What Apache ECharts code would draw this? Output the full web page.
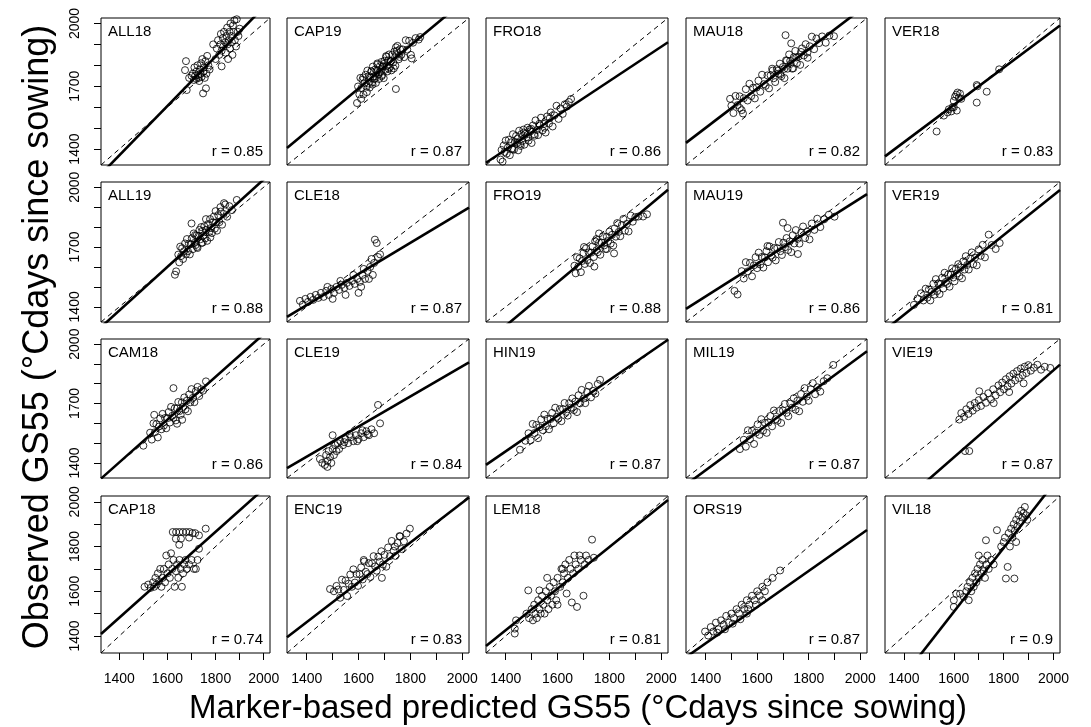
<!DOCTYPE html>
<html>
<head>
<meta charset="utf-8">
<script src="https://cdn.jsdelivr.net/npm/echarts@6/dist/echarts.min.js"></script>
<style>
  html, body { margin: 0; padding: 0; background: #fff; }
  #chart { width: 1091px; height: 727px; }
</style>
</head>
<body>
<div id="chart"></div>
<script>
// Sites / trial names, row by row
const sites = [
  'ALL18', 'CAP19', 'FRO18', 'MAU18', 'VER18',
  'ALL19', 'CLE18', 'FRO19', 'MAU19', 'VER19',
  'CAM18', 'CLE19', 'HIN19', 'MIL19', 'VIE19',
  'CAP18', 'ENC19', 'LEM18', 'ORS19', 'VIL18'
];
const rValues = ['0.85','0.87','0.86','0.82','0.83','0.88','0.87','0.88','0.86','0.81',
                 '0.86','0.84','0.87','0.87','0.87','0.74','0.83','0.81','0.87','0.9'];
// linear fit of observed on predicted: y = intercept + slope * x
const fitIntercept = [-282, 41, 249, 185, 187, -153, 317, -221, 304, -40,
                      -109, 368, 199, 19, -332, 138, 216, 124, 233, -780];
const fitSlope = [1.18, 1.03, 0.82, 0.94, 0.89, 1.096, 0.78, 1.09, 0.82, 1.0,
                  1.08, 0.76, 0.9, 0.96, 1.1, 0.96, 0.89, 0.93, 0.81, 1.43];

// axis range and ticks
const axisMin = 1324, axisMax = 2026;
const tickValues = [1400, 1500, 1600, 1700, 1800, 1900, 2000];
const yLabelValues = [1400, 1700, 2000];
const bottomLabelValues = [1400, 1600, 1800, 2000];

// [predicted, observed] per trial
const ALL18 = [[1677,1820],[1673,1777],[1680,1682],[1690,1740],[1700,1750],[1705,1760],[1710,1730],[1712,1790],[1715,1750],[1720,1770],[1720,1735],[1725,1800],[1728,1755],[1730,1740],[1732,1725],[1735,1780],[1738,1760],[1740,1810],[1742,1745],[1745,1830],[1748,1666],[1750,1770],[1752,1790],[1755,1740],[1758,1820],[1760,1690],[1762,1760],[1765,1845],[1770,1800],[1775,1780],[1805,1880],[1810,1920],[1815,1850],[1820,1900],[1822,1950],[1825,1870],[1830,1930],[1832,1890],[1835,1960],[1840,1910],[1842,1860],[1845,1940],[1848,1980],[1850,1900],[1852,1830],[1855,1920],[1858,1960],[1860,1880],[1862,2000],[1865,1940],[1868,1910],[1870,1850],[1872,1990],[1875,1960],[1878,2015],[1880,1920],[1885,1890],[1888,2020],[1892,1960],[1895,1940],[1900,1975],[1825,1795],[1790,1900],[1800,1830]];
const CAP19 = [[1598,1699],[1603,1661],[1607,1740],[1611,1692],[1615,1731],[1619,1661],[1623,1716],[1627,1755],[1630,1698],[1634,1775],[1637,1713],[1640,1749],[1643,1694],[1646,1743],[1649,1772],[1652,1717],[1655,1794],[1658,1746],[1661,1734],[1664,1780],[1667,1716],[1670,1775],[1673,1804],[1676,1756],[1679,1735],[1682,1795],[1685,1771],[1688,1816],[1691,1754],[1694,1795],[1697,1739],[1700,1822],[1703,1779],[1706,1844],[1709,1797],[1712,1771],[1715,1824],[1718,1852],[1721,1790],[1724,1819],[1727,1776],[1730,1851],[1734,1815],[1738,1866],[1742,1798],[1746,1849],[1750,1893],[1755,1829],[1760,1877],[1765,1850],[1770,1876],[1776,1839],[1782,1920],[1788,1875],[1795,1917],[1802,1850],[1810,1908],[1820,1930],[1832,1923],[1632,1672],[1650,1771],[1662,1737],[1672,1809],[1680,1767],[1689,1748],[1698,1807],[1708,1841],[1716,1784],[1725,1820],[1736,1785],[1748,1869],[1758,1840],[1618,1742],[1654,1708],[1693,1795],[1744,1886],[1594,1620],[1610,1640],[1744,1687],[1805,1833],[1838,1935]];
const FRO18 = [[1380,1350],[1384,1396],[1388,1340],[1392,1417],[1396,1386],[1400,1441],[1404,1378],[1408,1407],[1412,1445],[1416,1371],[1420,1432],[1424,1403],[1428,1471],[1432,1397],[1436,1434],[1440,1463],[1444,1430],[1448,1394],[1452,1488],[1456,1425],[1460,1471],[1464,1438],[1468,1493],[1472,1421],[1476,1473],[1480,1457],[1484,1502],[1488,1440],[1492,1494],[1496,1485],[1500,1429],[1505,1513],[1510,1471],[1515,1537],[1520,1491],[1525,1467],[1530,1521],[1536,1550],[1542,1489],[1548,1520],[1554,1479],[1560,1556],[1567,1522],[1574,1575],[1581,1508],[1588,1561],[1596,1607],[1604,1544],[1612,1594],[1620,1568],[1628,1614],[1636,1603],[1644,1625],[1652,1639],[1426,1398],[1446,1450],[1458,1415],[1470,1479],[1486,1455],[1498,1497],[1512,1464],[1532,1513],[1550,1502],[1570,1548]];
const MAU18 = [[1500,1607],[1508,1572],[1516,1654],[1524,1610],[1532,1652],[1540,1586],[1548,1643],[1556,1686],[1563,1632],[1570,1712],[1577,1653],[1584,1693],[1591,1642],[1598,1694],[1605,1727],[1612,1674],[1619,1755],[1626,1710],[1633,1702],[1640,1752],[1646,1690],[1652,1752],[1658,1784],[1664,1738],[1670,1720],[1676,1782],[1682,1760],[1688,1808],[1694,1748],[1700,1792],[1706,1739],[1712,1824],[1718,1784],[1724,1852],[1730,1807],[1736,1784],[1742,1839],[1748,1869],[1754,1810],[1760,1841],[1767,1802],[1774,1881],[1781,1847],[1788,1901],[1796,1836],[1804,1891],[1812,1937],[1821,1877],[1830,1928],[1840,1906],[1852,1938],[1866,1908],[1880,1942],[1898,1939],[1660,1775],[1690,1756],[1715,1822],[1740,1786],[1770,1864],[1795,1861],[1680,1774],[1705,1783],[1728,1821],[1752,1837],[1710,1944],[1732,1905],[1533,1596],[1545,1570],[1495,1640]];
const VER18 = [[1531,1484],[1560,1560],[1575,1575],[1580,1590],[1590,1580],[1595,1600],[1600,1630],[1605,1650],[1610,1660],[1620,1645],[1615,1670],[1625,1665],[1630,1640],[1612,1584],[1692,1706],[1695,1700],[1732,1674],[1692,1622],[1782,1781],[1600,1600]];
const ALL19 = [[1645,1662],[1649,1623],[1653,1702],[1657,1655],[1661,1694],[1665,1640],[1669,1679],[1673,1718],[1677,1663],[1681,1740],[1685,1679],[1689,1717],[1693,1663],[1697,1714],[1701,1744],[1705,1689],[1709,1768],[1713,1721],[1717,1710],[1721,1758],[1725,1695],[1729,1756],[1733,1786],[1737,1739],[1741,1720],[1745,1781],[1749,1758],[1753,1804],[1757,1743],[1761,1786],[1765,1731],[1769,1815],[1773,1774],[1777,1840],[1781,1795],[1785,1770],[1789,1824],[1793,1853],[1797,1792],[1801,1823],[1806,1782],[1811,1860],[1816,1825],[1821,1878],[1827,1812],[1833,1866],[1840,1913],[1848,1852],[1857,1905],[1868,1885],[1888,1936],[1700,1818],[1722,1700],[1746,1722],[1778,1748],[1760,1840],[1740,1800],[1715,1760],[1800,1880],[1820,1900],[1835,1920],[1631,1561],[1636,1578]];
const CLE18 = [[1374,1430],[1385,1411],[1395,1440],[1405,1425],[1415,1450],[1425,1435],[1435,1460],[1445,1445],[1455,1470],[1465,1450],[1475,1480],[1485,1460],[1495,1490],[1505,1470],[1515,1500],[1525,1485],[1535,1510],[1545,1495],[1555,1520],[1565,1505],[1575,1530],[1585,1515],[1595,1540],[1605,1525],[1615,1560],[1625,1540],[1635,1580],[1645,1600],[1655,1560],[1660,1620],[1663,1737],[1670,1720],[1675,1650],[1683,1663],[1600,1470],[1550,1460],[1500,1440],[1480,1500],[1530,1530],[1580,1560],[1620,1590],[1650,1640],[1610,1500],[1640,1540]];
const FRO19 = [[1665,1606],[1670,1568],[1675,1649],[1680,1602],[1685,1643],[1690,1574],[1695,1630],[1700,1670],[1705,1615],[1710,1694],[1715,1634],[1720,1673],[1725,1620],[1730,1672],[1735,1703],[1740,1650],[1745,1729],[1750,1684],[1755,1674],[1760,1722],[1765,1661],[1770,1722],[1775,1754],[1780,1708],[1785,1690],[1790,1752],[1795,1730],[1800,1777],[1805,1717],[1810,1761],[1815,1707],[1820,1793],[1825,1752],[1830,1820],[1836,1776],[1842,1754],[1848,1810],[1854,1841],[1860,1782],[1867,1816],[1874,1778],[1882,1858],[1890,1827],[1900,1850],[1912,1853],[1930,1853],[1945,1864],[1702,1700],[1760,1768],[1818,1668],[1742,1602],[1790,1690],[1750,1740]];
const MAU19 = [[1512,1480],[1524,1462],[1540,1579],[1548,1542],[1556,1624],[1564,1578],[1572,1620],[1580,1553],[1587,1608],[1594,1649],[1600,1594],[1606,1672],[1612,1612],[1618,1650],[1624,1597],[1630,1648],[1636,1679],[1642,1624],[1648,1703],[1654,1657],[1660,1647],[1666,1695],[1672,1633],[1678,1694],[1684,1725],[1690,1679],[1696,1660],[1702,1722],[1708,1699],[1714,1745],[1720,1685],[1726,1728],[1732,1674],[1738,1759],[1744,1718],[1750,1785],[1757,1741],[1764,1717],[1771,1773],[1778,1803],[1786,1745],[1794,1777],[1803,1738],[1812,1818],[1822,1786],[1833,1842],[1845,1800],[1860,1839],[1878,1862],[1900,1852],[1700,1822],[1718,1795],[1640,1705],[1758,1665]];
const VER19 = [[1440,1410],[1455,1442],[1468,1468],[1478,1432],[1487,1491],[1494,1446],[1500,1487],[1506,1432],[1512,1475],[1518,1516],[1523,1461],[1528,1539],[1533,1479],[1538,1517],[1543,1464],[1548,1515],[1553,1546],[1558,1492],[1563,1571],[1568,1525],[1573,1515],[1578,1563],[1583,1501],[1588,1562],[1593,1593],[1598,1547],[1603,1528],[1608,1590],[1613,1567],[1618,1614],[1623,1554],[1628,1597],[1633,1543],[1638,1628],[1643,1587],[1648,1654],[1654,1610],[1660,1587],[1666,1643],[1672,1673],[1678,1614],[1685,1647],[1692,1608],[1700,1688],[1708,1656],[1716,1711],[1725,1648],[1740,1762],[1752,1710],[1768,1690],[1784,1720]];
const CAM18 = [[1500,1487],[1528,1553],[1535,1518],[1542,1600],[1548,1555],[1554,1596],[1560,1529],[1565,1584],[1570,1625],[1575,1570],[1580,1648],[1585,1589],[1590,1627],[1595,1575],[1600,1626],[1605,1657],[1610,1604],[1615,1683],[1620,1638],[1625,1628],[1630,1676],[1635,1615],[1640,1676],[1645,1708],[1650,1662],[1655,1643],[1660,1706],[1665,1683],[1670,1731],[1675,1671],[1680,1714],[1685,1661],[1690,1746],[1695,1706],[1700,1773],[1706,1729],[1712,1707],[1718,1763],[1725,1784],[1732,1738],[1740,1772],[1748,1765],[1545,1643],[1625,1778],[1760,1812],[1640,1598],[1661,1618]];
const CLE19 = [[1451,1420],[1460,1400],[1470,1390],[1475,1440],[1480,1410],[1485,1460],[1490,1430],[1495,1400],[1500,1470],[1505,1440],[1510,1490],[1515,1460],[1520,1500],[1525,1470],[1530,1510],[1540,1490],[1550,1520],[1560,1500],[1570,1530],[1580,1510],[1590,1540],[1600,1520],[1610,1550],[1620,1530],[1630,1560],[1640,1540],[1650,1570],[1660,1550],[1683,1600],[1675,1693],[1480,1380],[1500,1540],[1545,1505],[1565,1545],[1595,1510],[1615,1565],[1635,1545]];
const HIN19 = [[1455,1467],[1476,1512],[1488,1550],[1496,1514],[1504,1597],[1511,1551],[1518,1592],[1525,1525],[1531,1580],[1537,1620],[1543,1566],[1549,1644],[1555,1585],[1561,1623],[1567,1570],[1573,1622],[1579,1653],[1585,1600],[1591,1679],[1597,1633],[1603,1624],[1609,1672],[1615,1611],[1621,1672],[1627,1703],[1633,1658],[1639,1639],[1645,1702],[1651,1679],[1657,1726],[1663,1667],[1669,1710],[1675,1657],[1681,1742],[1687,1701],[1693,1769],[1700,1725],[1707,1702],[1714,1759],[1721,1789],[1729,1731],[1737,1764],[1746,1750],[1755,1799],[1764,1820]];
const MIL19 = [[1533,1470],[1548,1517],[1556,1482],[1564,1565],[1572,1520],[1580,1563],[1588,1496],[1595,1553],[1602,1595],[1609,1542],[1616,1621],[1623,1563],[1630,1603],[1637,1552],[1644,1604],[1651,1637],[1658,1585],[1665,1665],[1672,1621],[1679,1613],[1686,1663],[1693,1602],[1700,1665],[1707,1698],[1714,1653],[1721,1636],[1728,1700],[1735,1679],[1742,1727],[1749,1669],[1756,1714],[1763,1661],[1770,1748],[1777,1709],[1784,1778],[1792,1735],[1800,1714],[1808,1772],[1816,1803],[1825,1747],[1834,1782],[1845,1760],[1858,1813],[1872,1828],[1895,1895]];
const VIE19 = [[1622,1619],[1630,1652],[1641,1633],[1650,1671],[1659,1648],[1666,1692],[1676,1664],[1684,1703],[1691,1679],[1700,1717],[1709,1688],[1719,1733],[1729,1704],[1738,1752],[1749,1721],[1758,1772],[1768,1741],[1779,1792],[1786,1757],[1794,1806],[1801,1772],[1809,1823],[1816,1786],[1824,1838],[1831,1801],[1839,1851],[1846,1817],[1854,1864],[1861,1829],[1869,1877],[1876,1843],[1884,1886],[1891,1854],[1899,1894],[1909,1866],[1921,1881],[1935,1896],[1950,1871],[1965,1886],[1987,1880],[1645,1460],[1662,1460],[1702,1762],[1760,1702],[1822,1758],[1880,1802]];
const CAP18 = [[1505,1620],[1520,1630],[1530,1615],[1540,1640],[1545,1620],[1550,1660],[1555,1630],[1560,1680],[1565,1645],[1570,1700],[1575,1620],[1580,1660],[1585,1700],[1590,1640],[1595,1760],[1600,1680],[1605,1720],[1610,1660],[1615,1770],[1620,1700],[1625,1740],[1630,1620],[1635,1690],[1640,1720],[1645,1660],[1650,1740],[1655,1700],[1660,1620],[1665,1680],[1670,1720],[1675,1740],[1680,1700],[1690,1720],[1700,1740],[1710,1700],[1718,1700],[1725,1740],[1731,1790],[1622,1865],[1636,1865],[1650,1865],[1664,1865],[1678,1865],[1692,1865],[1704,1860],[1759,1880],[1731,1850],[1635,1835],[1656,1835],[1649,1808],[1690,1840],[1715,1860]];
const ENC19 = [[1490,1610],[1505,1600],[1515,1624],[1522,1608],[1529,1571],[1536,1652],[1543,1606],[1550,1648],[1556,1579],[1562,1634],[1568,1675],[1574,1620],[1580,1698],[1586,1639],[1592,1677],[1598,1624],[1604,1676],[1610,1707],[1616,1653],[1622,1733],[1628,1687],[1634,1677],[1640,1726],[1646,1664],[1652,1725],[1658,1757],[1664,1711],[1670,1692],[1676,1755],[1682,1732],[1688,1779],[1694,1720],[1700,1763],[1707,1710],[1714,1796],[1721,1757],[1728,1825],[1735,1781],[1742,1758],[1750,1816],[1758,1847],[1766,1789],[1775,1823],[1785,1858],[1798,1880],[1690,1660],[1620,1740],[1760,1845],[1740,1800]];
const LEM18 = [[1435,1411],[1435,1433],[1440,1470],[1480,1500],[1490,1480],[1500,1520],[1505,1470],[1510,1540],[1515,1500],[1520,1480],[1525,1560],[1530,1520],[1535,1500],[1540,1580],[1545,1540],[1550,1500],[1555,1600],[1560,1560],[1565,1520],[1570,1620],[1575,1580],[1580,1540],[1585,1640],[1590,1600],[1595,1560],[1600,1660],[1610,1620],[1615,1700],[1620,1640],[1625,1680],[1630,1720],[1635,1590],[1640,1660],[1645,1740],[1650,1700],[1655,1550],[1660,1680],[1665,1760],[1670,1720],[1675,1530],[1680,1700],[1685,1760],[1690,1740],[1700,1580],[1705,1720],[1710,1760],[1720,1740],[1733,1831],[1740,1750],[1487,1604],[1530,1604],[1600,1540],[1560,1660],[1620,1700]];
const ORS19 = [[1398,1420],[1410,1402],[1420,1440],[1430,1420],[1440,1460],[1450,1430],[1460,1470],[1470,1450],[1480,1490],[1490,1460],[1500,1500],[1510,1480],[1520,1520],[1530,1500],[1540,1540],[1550,1520],[1560,1560],[1570,1540],[1580,1580],[1590,1560],[1600,1600],[1610,1580],[1620,1620],[1630,1600],[1640,1640],[1660,1660],[1689,1693],[1620,1560],[1560,1500],[1445,1415],[1475,1430],[1505,1455],[1535,1475],[1565,1520],[1595,1540]];
const VIL18 = [[1600,1530],[1600,1560],[1610,1589],[1625,1589],[1640,1575],[1650,1600],[1655,1620],[1660,1560],[1665,1640],[1670,1600],[1675,1660],[1680,1620],[1685,1680],[1690,1640],[1695,1700],[1700,1660],[1705,1720],[1710,1680],[1715,1740],[1720,1690],[1725,1660],[1730,1720],[1729,1828],[1735,1760],[1740,1700],[1750,1740],[1760,1720],[1773,1873],[1790,1800],[1800,1820],[1805,1840],[1809,1657],[1816,1709],[1820,1860],[1825,1800],[1830,1880],[1835,1840],[1840,1900],[1843,1657],[1845,1870],[1850,1920],[1855,1890],[1860,1940],[1865,1910],[1870,1960],[1875,1930],[1880,1950],[1885,1977],[1890,1940],[1895,1920],[1850,1820],[1700,1760]];

const panelPoints = [
  ALL18, CAP19, FRO18, MAU18, VER18,
  ALL19, CLE18, FRO19, MAU19, VER19,
  CAM18, CLE19, HIN19, MIL19, VIE19,
  CAP18, ENC19, LEM18, ORS19, VIL18
];

// panel layout (pixels)
const colLeft = [101, 287, 486, 686, 885];
const colRight = [270, 469, 668, 867, 1060];
const rowTop = [18, 182, 339, 496];
const rowBottom = [165, 322, 478, 653];

const FONT = '"Liberation Sans", Arial, Helvetica, sans-serif';
const plain = v => String(v);
const chart = echarts.init(document.getElementById('chart'), null, { renderer: 'canvas' });

const grid = [], xAxis = [], yAxis = [], series = [], graphic = [];

sites.forEach((name, i) => {
  const r = Math.floor(i / 5), c = i % 5;
  const left = colLeft[c], top = rowTop[r];
  const width = colRight[c] - colLeft[c], height = rowBottom[r] - rowTop[r];
  const isBottom = r === 3, isLeft = c === 0;

  grid.push({
    left: left, top: top, width: width, height: height,
    show: true, borderColor: '#000', borderWidth: 1, backgroundColor: '#fff',
    containLabel: false
  });

  xAxis.push({
    gridIndex: i, type: 'value', min: axisMin, max: axisMax,
    axisLine: { show: false },
    splitLine: { show: false },
    axisTick: { show: isBottom, customValues: tickValues, length: 7, lineStyle: { color: '#000', width: 1 } },
    axisLabel: { show: isBottom, customValues: bottomLabelValues, formatter: plain,
                 fontSize: 14, color: '#000', fontFamily: FONT, margin: 19 }
  });

  yAxis.push({
    gridIndex: i, type: 'value', min: axisMin, max: axisMax,
    axisLine: { show: false },
    splitLine: { show: false },
    axisTick: { show: isLeft, customValues: tickValues, length: 7, lineStyle: { color: '#000', width: 1 } },
    axisLabel: { show: isLeft, customValues: isBottom ? bottomLabelValues : yLabelValues, formatter: plain,
                 rotate: 90, fontSize: 14, color: '#000', fontFamily: FONT, margin: 19 }
  });

  series.push({
    type: 'scatter', xAxisIndex: i, yAxisIndex: i,
    data: panelPoints[i],
    symbol: 'circle', symbolSize: 7,
    itemStyle: { color: 'rgba(0,0,0,0)', borderColor: '#000', borderWidth: 1 },
    silent: true, animation: false
  });

  // 1:1 reference line
  series.push({
    type: 'line', xAxisIndex: i, yAxisIndex: i,
    data: [[axisMin, axisMin], [axisMax, axisMax]],
    showSymbol: false, symbol: 'none', clip: true, silent: true, animation: false,
    lineStyle: { color: '#000', width: 1, type: [5, 4] }
  });

  // fitted regression line
  const a = fitIntercept[i], b = fitSlope[i];
  series.push({
    type: 'line', xAxisIndex: i, yAxisIndex: i,
    data: [[axisMin, a + b * axisMin], [axisMax, a + b * axisMax]],
    showSymbol: false, symbol: 'none', clip: true, silent: true, animation: false,
    lineStyle: { color: '#000', width: 2.6 }
  });

  graphic.push({
    type: 'text', left: left + 7, top: top + 6, silent: true,
    style: { text: name, fontSize: 15, fontFamily: FONT, fill: '#000' }
  });
  graphic.push({
    type: 'text', right: 1091 - (colRight[c] - 7), bottom: 727 - (rowBottom[r] - 6), silent: true,
    style: { text: 'r = ' + rValues[i], fontSize: 15, fontFamily: FONT, fill: '#000' }
  });
});

graphic.push({
  type: 'text', x: 578, y: 709, silent: true,
  style: { text: 'Marker-based predicted GS55 (°Cdays since sowing)', fontSize: 33, fontFamily: FONT,
           fill: '#000', align: 'center', verticalAlign: 'middle' }
});
graphic.push({
  type: 'text', x: 38, y: 337, rotation: Math.PI / 2, silent: true,
  style: { text: 'Observed GS55 (°Cdays since sowing)', fontSize: 36, fontFamily: FONT,
           fill: '#000', align: 'center', verticalAlign: 'middle' }
});

chart.setOption({
  animation: false,
  backgroundColor: '#fff',
  grid: grid,
  xAxis: xAxis,
  yAxis: yAxis,
  series: series,
  graphic: graphic
});
</script>
</body>
</html>
